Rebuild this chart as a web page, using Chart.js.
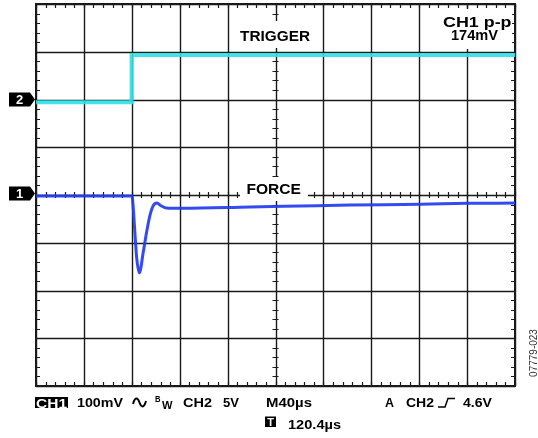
<!DOCTYPE html>
<html>
<head>
<meta charset="utf-8">
<script src="https://cdn.jsdelivr.net/npm/chart.js@4.4.1/dist/chart.umd.min.js"></script>
<style>
  html, body { margin: 0; padding: 0; background: #fff; }
  #wrap { width: 538px; height: 438px; }
</style>
</head>
<body>
<div id="wrap"><canvas id="c" width="538" height="438"></canvas></div>
<script>
// ---- Data ----
// Time axis: M40µs per division, 10 divisions
const timeMin = 0, timeMax = 400, timeStep = 40;
// CH1 (FORCE), 100 mV/div, marker "1" at 0 mV (centre line)
const ch1Time = [0, 40, 79.5, 80.4, 81.3, 82.7, 84.1, 86.3, 89.6, 92.4, 95.2, 98.0, 101.0, 104.0, 108.6, 122.8, 178.7, 220.5, 262.2, 320.7, 360.8, 400];
const ch1mV   = [-2, -2, -2, -5, -30, -84, -132, -163, -119, -77, -42, -22, -17, -22, -27, -28, -25, -23, -21, -19.5, -17.5, -17];
const ch1Min = -400, ch1Max = 400, ch1Step = 100;
// CH2 (TRIGGER), 5 V/div, marker "2" at 0 V (two divisions above centre)
const ch2Time = [0, 79.6, 79.8, 400];
const ch2V    = [-0.3, -0.3, 4.65, 4.65];
const ch2Min = -30, ch2Max = 10;
// Annotation texts
const traceLabels = ["TRIGGER", "FORCE"];
const measureLabels = ["CH1 p-p", "174mV"];
const statusRow1 = ["CH1", "100mV", "CH2", "5V", "M40µs", "A", "CH2", "4.6V"];
const statusRow2 = ["T", "120.4µs"];
const figId = "07779-023";

const BOLD = 'bold 15px "Liberation Sans", Arial, sans-serif';
const BOLD13 = 'bold 13px "Liberation Sans", Arial, sans-serif';

function fitText(ctx, text, x, y, width, font, color) {
  ctx.save();
  ctx.font = font;
  ctx.fillStyle = color || '#000';
  ctx.textBaseline = 'alphabetic';
  ctx.textAlign = 'left';
  const w = ctx.measureText(text).width;
  ctx.translate(x, y);
  if (width) ctx.scale(width / w, 1);
  ctx.fillText(text, 0, 0);
  ctx.restore();
}

const scopePlugin = {
  id: 'scope',
  beforeDatasetsDraw(chart) {
    const ctx = chart.ctx;
    const a = chart.chartArea;
    const xs = chart.scales.x, ys = chart.scales.y;
    ctx.save();
    ctx.fillStyle = '#fff';
    ctx.fillRect(0, 0, chart.width, chart.height);
    ctx.strokeStyle = '#1a1a1a';
    ctx.lineWidth = 1.4;
    // major grid
    for (let t = timeMin; t <= timeMax; t += timeStep) {
      const px = Math.round(xs.getPixelForValue(t)) + 0.5;
      ctx.beginPath(); ctx.moveTo(px, a.top); ctx.lineTo(px, a.bottom); ctx.stroke();
    }
    for (let v = ch1Min; v <= ch1Max; v += ch1Step) {
      const py = Math.round(ys.getPixelForValue(v)) + 0.5;
      ctx.beginPath(); ctx.moveTo(a.left, py); ctx.lineTo(a.right, py); ctx.stroke();
    }
    // minor ticks (5 per division)
    ctx.lineWidth = 1.2;
    const cx = xs.getPixelForValue((timeMin + timeMax) / 2);
    const cy = ys.getPixelForValue(0);
    for (let t = timeMin; t <= timeMax; t += timeStep / 5) {
      const px = Math.round(xs.getPixelForValue(t)) + 0.5;
      ctx.beginPath();
      ctx.moveTo(px, a.top); ctx.lineTo(px, a.top + 4);
      ctx.moveTo(px, a.bottom); ctx.lineTo(px, a.bottom - 4);
      ctx.moveTo(px, cy - 3); ctx.lineTo(px, cy + 3);
      ctx.stroke();
    }
    for (let v = ch1Min; v <= ch1Max; v += ch1Step / 5) {
      const py = Math.round(ys.getPixelForValue(v)) + 0.5;
      ctx.beginPath();
      ctx.moveTo(a.left, py); ctx.lineTo(a.left + 4, py);
      ctx.moveTo(a.right, py); ctx.lineTo(a.right - 4, py);
      ctx.moveTo(cx - 3, py); ctx.lineTo(cx + 3, py);
      ctx.stroke();
    }
    // border
    ctx.lineWidth = 2;
    ctx.strokeRect(a.left, a.top, a.right - a.left, a.bottom - a.top);
    ctx.restore();
  },
  afterDatasetsDraw(chart) {
    const ctx = chart.ctx;
    const a = chart.chartArea;
    const xs = chart.scales.x, ys = chart.scales.y, y2 = chart.scales.y2;
    ctx.save();
    // white label boxes
    ctx.fillStyle = '#fff';
    ctx.fillRect(237, 21, 78, 27);
    ctx.fillRect(240, 177, 68, 24);
    ctx.fillRect(440, 9, 72, 40);
    // labels
    fitText(ctx, traceLabels[0], 240, 40.7, 70, BOLD);
    fitText(ctx, traceLabels[1], 246.5, 194.3, 54.5, BOLD);
    fitText(ctx, measureLabels[0], 443, 27.3, 68.5, BOLD);
    fitText(ctx, measureLabels[1], 451, 40, 47, BOLD);

    // channel markers
    function marker(label, yc) {
      ctx.fillStyle = '#000';
      ctx.beginPath();
      ctx.moveTo(9, yc - 7); ctx.lineTo(30, yc - 7); ctx.lineTo(35, yc);
      ctx.lineTo(30, yc + 7); ctx.lineTo(9, yc + 7); ctx.closePath();
      ctx.fill();
      ctx.fillStyle = '#fff';
      ctx.font = 'bold 13px "Liberation Sans", Arial, sans-serif';
      ctx.textAlign = 'center'; ctx.textBaseline = 'middle';
      ctx.fillText(label, 19.5, yc + 0.5);
    }
    marker('2', y2.getPixelForValue(0));
    marker('1', ys.getPixelForValue(0) - 1.5);

    // status row 1
    ctx.fillStyle = '#000';
    ctx.fillRect(35, 397, 33, 11);
    fitText(ctx, statusRow1[0], 36, 407.5, 31, BOLD13, '#fff');
    fitText(ctx, statusRow1[1], 77, 407.3, 46, BOLD13);
    // bandwidth sine symbol
    ctx.strokeStyle = '#000'; ctx.lineWidth = 2;
    ctx.beginPath();
    ctx.moveTo(133, 404);
    ctx.bezierCurveTo(135, 397, 137.5, 397, 139.5, 402.5);
    ctx.bezierCurveTo(141.5, 408, 144, 408, 146, 401);
    ctx.stroke();
    fitText(ctx, 'B', 155, 401.5, 5.5, 'bold 9px "Liberation Sans", Arial, sans-serif');
    fitText(ctx, 'W', 162, 408.5, 10.5, 'bold 10px "Liberation Sans", Arial, sans-serif');
    fitText(ctx, statusRow1[2], 183, 407.3, 29, BOLD13);
    fitText(ctx, statusRow1[3], 223, 407.3, 16, BOLD13);
    fitText(ctx, statusRow1[4], 266, 407.3, 46, BOLD13);
    fitText(ctx, statusRow1[5], 385, 407.3, 9, BOLD13);
    fitText(ctx, statusRow1[6], 406, 407.3, 28, BOLD13);
    // trigger edge symbol
    ctx.lineWidth = 1.5;
    ctx.beginPath();
    ctx.moveTo(438, 407); ctx.lineTo(445, 407); ctx.lineTo(448, 398.5); ctx.lineTo(455, 398.5);
    ctx.stroke();
    fitText(ctx, statusRow1[7], 463, 407.3, 29, BOLD13);
    // status row 2
    ctx.fillStyle = '#000';
    ctx.fillRect(265, 416.5, 11, 10.5);
    ctx.fillStyle = '#fff';
    ctx.font = 'bold 11px "Liberation Sans", Arial, sans-serif';
    ctx.textAlign = 'center'; ctx.textBaseline = 'alphabetic';
    ctx.fillText(statusRow2[0], 270.5, 426);
    fitText(ctx, statusRow2[1], 288, 429, 53, BOLD13);

    // figure id
    ctx.save();
    ctx.translate(536.5, 353);
    ctx.rotate(-Math.PI / 2);
    ctx.font = '10px "Liberation Sans", Arial, sans-serif';
    ctx.fillStyle = '#333';
    ctx.textAlign = 'center'; ctx.textBaseline = 'alphabetic';
    ctx.fillText(figId, 0, 0);
    ctx.restore();
    ctx.restore();
  }
};

new Chart(document.getElementById('c'), {
  type: 'line',
  data: {
    datasets: [
      {
        label: 'CH2 TRIGGER',
        data: ch2Time.map((t, i) => ({ x: t, y: ch2V[i] })),
        yAxisID: 'y2',
        borderColor: 'rgba(45,225,232,0.9)',
        borderWidth: 4,
        pointRadius: 0,
        tension: 0
      },
      {
        label: 'CH1 FORCE',
        data: ch1Time.map((t, i) => ({ x: t, y: ch1mV[i] })),
        yAxisID: 'y',
        borderColor: 'rgba(35,60,240,0.92)',
        borderWidth: 3,
        pointRadius: 0,
        tension: 0.25,
        cubicInterpolationMode: 'monotone'
      }
    ]
  },
  options: {
    responsive: false,
    animation: false,
    devicePixelRatio: 1,
    layout: { padding: { left: 36, right: 23, top: 4, bottom: 52 } },
    plugins: { legend: { display: false }, tooltip: { enabled: false } },
    scales: {
      x: { type: 'linear', min: timeMin, max: timeMax, display: false },
      y: { type: 'linear', min: ch1Min, max: ch1Max, display: false },
      y2: { type: 'linear', min: ch2Min, max: ch2Max, display: false }
    }
  },
  plugins: [scopePlugin]
});
</script>
</body>
</html>
